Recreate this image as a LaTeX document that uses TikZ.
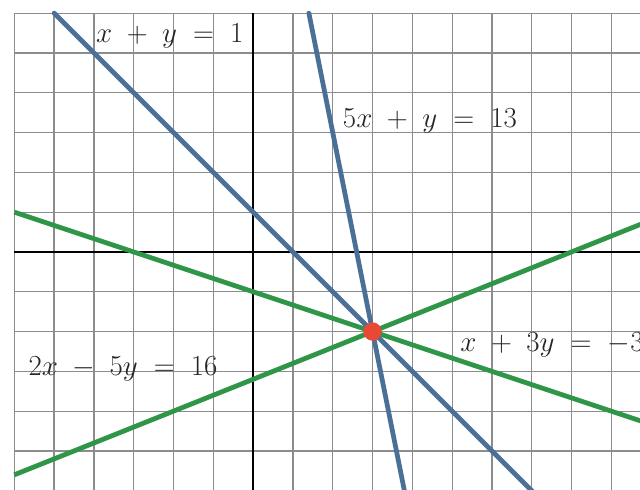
\documentclass[tikz,border=0pt]{standalone}
\begin{document}
\begin{tikzpicture}[
  gridline/.style={draw=black!45, line width=0.9pt},
  axisline/.style={draw=black, line width=1.4pt},
  bluel/.style={draw=lineblue, line width=3.4pt, line cap=round},
  greenl/.style={draw=linegreen, line width=3.4pt},
  eqlabel/.style={font=\fontsize{20}{24}\selectfont, inner sep=0pt, text=black!85},
]
\definecolor{lineblue}{RGB}{74,112,152}
\definecolor{linegreen}{RGB}{46,150,70}
\definecolor{dotred}{RGB}{232,72,52}
\fill[white] (-6.36,-5.98) rectangle (9.72,6.33);
\useasboundingbox (-6.36,-5.98) rectangle (9.72,6.33);
\begin{scope}
\clip (-6.36,-5.98) rectangle (9.72,6.33);
\draw[gridline] (-6,-7) grid (10,6);
\draw[axisline] (-6,0) -- (10,0);
\draw[axisline] (0,6) -- (0,-7);
% lines
\coordinate (a1) at (-5,6);
\coordinate (a2) at (7.2,-6.2);
\coordinate (b1) at (1.4,6);
\coordinate (b2) at (3.84,-6.2);
\coordinate (c1) at (-6,-5.6);
\coordinate (c2) at (10,0.8);
\coordinate (d1) at (-6,1);
\coordinate (d2) at (10,-4.3333);
\draw[greenl] (c1) -- (c2);
\draw[greenl] (d1) -- (d2);
\draw[bluel] (a1) -- (a2);
\draw[bluel] (b1) -- (b2);
\node[circle, fill=dotred, minimum size=0.46cm, inner sep=0pt] (p) at (3,-2) {};
\end{scope}
\node[eqlabel, anchor=base west] (l1) at (-3.95,5.25) {$x\mathbin{\;+\;}y\mathrel{\;=\;}1$};
\node[eqlabel, anchor=base west] (l2) at (2.25,3.12) {$5x\mathbin{\;+\;}y\mathrel{\;=\;}13$};
\node[eqlabel, anchor=base west] (l3) at (-5.65,-3.1) {$2x\mathbin{\;-\;}5y\mathrel{\;=\;}16$};
\node[eqlabel, anchor=base west] (l4) at (5.2,-2.5) {$x\mathbin{\;+\;}3y\mathrel{\;=\;}{-3}$};
\end{tikzpicture}
\end{document}
